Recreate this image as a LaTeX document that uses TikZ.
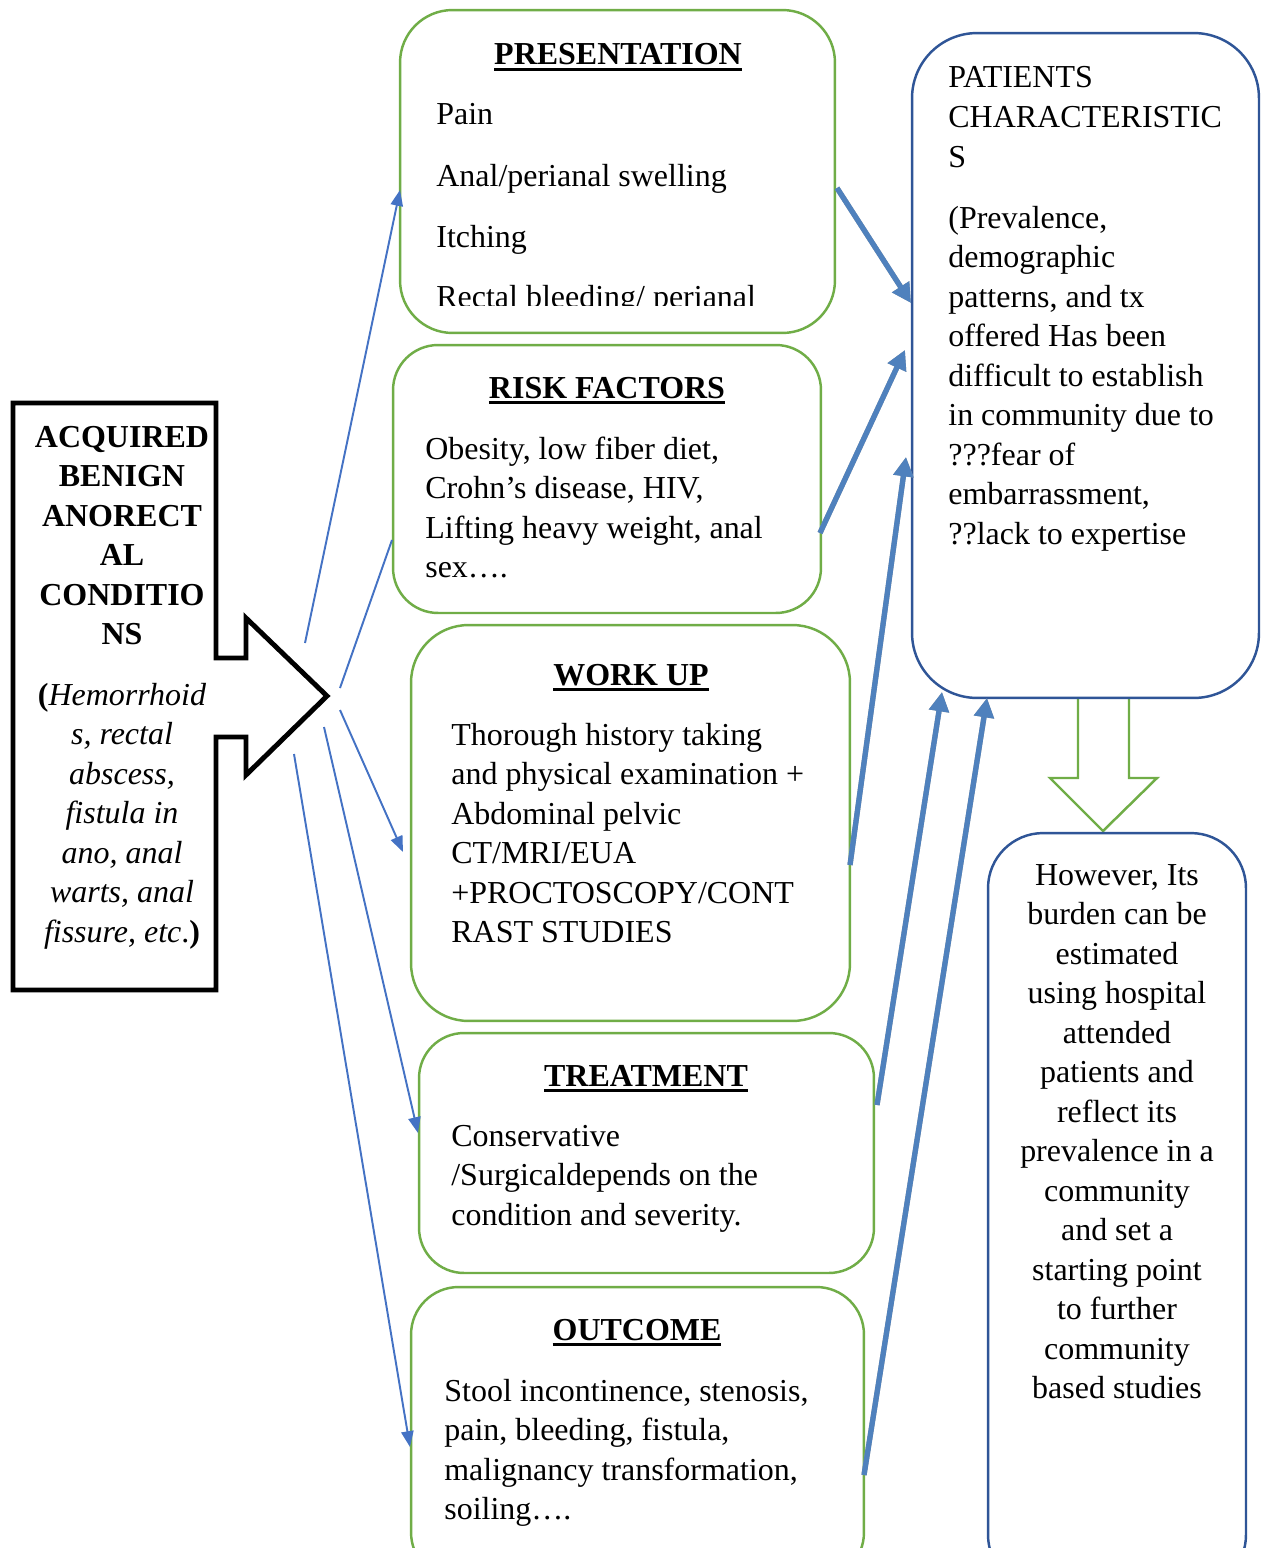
\documentclass[tikz,border=0pt]{standalone}
\usepackage{fontspec}
\setmainfont{Liberation Serif}
\usetikzlibrary{arrows.meta}
\definecolor{gr}{HTML}{70AD47}
\definecolor{db}{HTML}{2F5597}
\definecolor{tb}{HTML}{4472C4}
\definecolor{kb}{HTML}{4F81BD}
\definecolor{sh}{HTML}{A0A0A0}
\newcommand\ttlul[1]{\setbox0\hbox{#1}\rlap{\rule[-3.4pt]{\wd0}{1.6pt}}\box0}
\begin{document}
\begin{tikzpicture}[x=0.02cm,y=-0.02cm,
  gbox/.style={draw=gr, line width=1.4pt, inner sep=0pt, fill=white},
  bbox/.style={draw=db, line width=1.4pt, inner sep=0pt, fill=white},
  txt/.style={font=\fontsize{18.2}{22.5}\selectfont, inner sep=0pt},
  ttl/.style={txt, font=\fontsize{18.2}{22.5}\selectfont\bfseries, anchor=base},
  thinarrow/.style={draw=tb, line width=1.1pt, -{Triangle[length=9pt,width=7pt]}},
  thinline/.style={draw=tb, line width=1.1pt},
  thickarrow/.style={draw=kb, line width=3pt, -{Triangle[length=11pt,width=11pt]}},
  shadowarrow/.style={draw=sh, line width=3pt, -{Triangle[length=11pt,width=11pt]}, xshift=0.04cm, yshift=-0.05cm}]
\clip (0,0) rectangle (1262,1548);
\fill[white] (0,0) rectangle (1262,1548);

% left block arrow
\draw[line width=2.8pt, miter limit=10] (13,403) -- (216,403) -- (216,658) -- (246,658) -- (246,618) -- (327,696) -- (246,775) -- (246,737) -- (216,737) -- (216,990) -- (13,990) -- cycle;
\foreach \t [count=\i from 0] in {ACQUIRED,BENIGN,ANORECT,AL,CONDITIO,NS}
  \node[txt, font=\fontsize{18.2}{22.5}\selectfont\bfseries, anchor=base] at (122,{447+39.5*\i}) {\t};
\foreach \t [count=\i from 0] in {{\textbf{(}\textit{Hemorrhoid}},{\textit{s, rectal}},{\textit{abscess,}},{\textit{fistula in}},{\textit{ano, anal}},{\textit{warts, anal}},{\textit{fissure, etc}.\textbf{)}}}
  \node[txt, anchor=base] at (122,{705+39.5*\i}) {\t};

% boxes
\node[gbox, rounded corners=1.05cm, minimum width=8.7cm, minimum height=6.46cm] (pres) at (617.5,171.5) {};
\node[gbox, rounded corners=0.9cm, minimum width=8.56cm, minimum height=5.36cm] (risk) at (607,479) {};
\node[gbox, rounded corners=1.15cm, minimum width=8.78cm, minimum height=7.92cm] (work) at (630.5,823) {};
\node[gbox, rounded corners=0.9cm, minimum width=9.1cm, minimum height=4.8cm] (treat) at (646.5,1153) {};
\node[gbox, rounded corners=0.95cm, minimum width=9.06cm, minimum height=5.86cm] (outc) at (637.5,1433.5) {};

% down arrow
\draw[gr, line width=1.4pt] (1078,698) -- (1078,778) -- (1050,778) -- (1103,831) -- (1157,778) -- (1129,778) -- (1129,698);
\node[bbox, rounded corners=1.3cm, minimum width=6.94cm, minimum height=13.3cm] (pat) at (1085.5,365.5) {};
\node[bbox, rounded corners=1.1cm, minimum width=5.16cm, minimum height=15.14cm] (how) at (1117,1211.5) {};

% titles
\node[ttl] (t1) at (618,65) {\ttlul{PRESENTATION}};
\node[ttl] (t2) at (607,398) {\ttlul{RISK FACTORS}};
\node[ttl] (t3) at (631,685) {\ttlul{WORK UP}};
\node[ttl] (t4) at (646,1086) {\ttlul{TREATMENT}};
\node[ttl] (t5) at (637,1340) {\ttlul{OUTCOME}};

% presentation items
\node[txt, anchor=base west] at (436,125) {Pain};
\node[txt, anchor=base west] at (436,186) {Anal/perianal swelling};
\node[txt, anchor=base west] at (436,247) {Itching};
\begin{scope}
\clip (400,250) rectangle (835,305);
\node[txt, anchor=base west] at (436,307) {Rectal bleeding/ perianal};
\end{scope}

% risk factors
\foreach \t [count=\i from 0] in {{Obesity, low fiber diet,},{Crohn’s disease, HIV,},{Lifting heavy weight, anal},{sex….}}
  \node[txt, anchor=base west] at (425,{459+39.5*\i}) {\t};
% work up
\foreach \t [count=\i from 0] in {Thorough history taking,and physical examination +,Abdominal pelvic,CT/MRI/EUA,+PROCTOSCOPY/CONT,RAST STUDIES}
  \node[txt, anchor=base west] at (451,{745+39.5*\i}) {\t};
% treatment
\foreach \t [count=\i from 0] in {Conservative,/Surgicaldepends on the,condition and severity.}
  \node[txt, anchor=base west] at (451,{1146+39.5*\i}) {\t};
% outcome
\foreach \t [count=\i from 0] in {{Stool incontinence, stenosis,},{pain, bleeding, fistula,},{malignancy transformation,},{soiling….}}
  \node[txt, anchor=base west] at (444,{1401+39.5*\i}) {\t};
% patients characteristics
\foreach \t [count=\i from 0] in {PATIENTS,CHARACTERISTIC,S}
  \node[txt, anchor=base west] at (948,{88+39.5*\i}) {\t};
\foreach \t [count=\i from 0] in {{(Prevalence,},demographic,{patterns, and tx},offered Has been,difficult to establish,in community due to,???fear of,{embarrassment,},??lack to expertise}
  \node[txt, anchor=base west] at (948,{228+39.5*\i}) {\t};
% however
\foreach \t [count=\i from 0] in {{However, Its},burden can be,estimated,using hospital,attended,patients and,reflect its,prevalence in a,community,and set a,starting point,to further,community,based studies}
  \node[txt, anchor=base] at (1117,{885+39.5*\i}) {\t};

% connector points
\coordinate (s1) at (305,643); \coordinate (e1) at (400,190);
\coordinate (s2) at (340,688); \coordinate (e2) at (392,540);
\coordinate (s3) at (340,710); \coordinate (e3) at (403,852);
\coordinate (s4) at (324,727); \coordinate (e4) at (418,1133);
\coordinate (s5) at (294,754); \coordinate (e5) at (410,1447);
\draw[thinarrow] (s1) -- (e1);
\draw[thinline] (s2) -- (e2);
\draw[thinarrow] (s3) -- (e3);
\draw[thinarrow] (s4) -- (e4);
\draw[thinarrow] (s5) -- (e5);

\coordinate (a1) at (837,188); \coordinate (b1) at (911,303);
\coordinate (a2) at (820,533); \coordinate (b2) at (905,350);
\coordinate (a3) at (850,865); \coordinate (b3) at (906,457);
\coordinate (a4) at (877,1105); \coordinate (b4) at (942,692);
\coordinate (a5) at (864,1475); \coordinate (b5) at (987,698);
\foreach \a/\b in {a1/b1,a2/b2,a3/b3,a4/b4,a5/b5}{
  \draw[shadowarrow] (\a) -- (\b);
  \draw[thickarrow] (\a) -- (\b);
}
\end{tikzpicture}
\end{document}
